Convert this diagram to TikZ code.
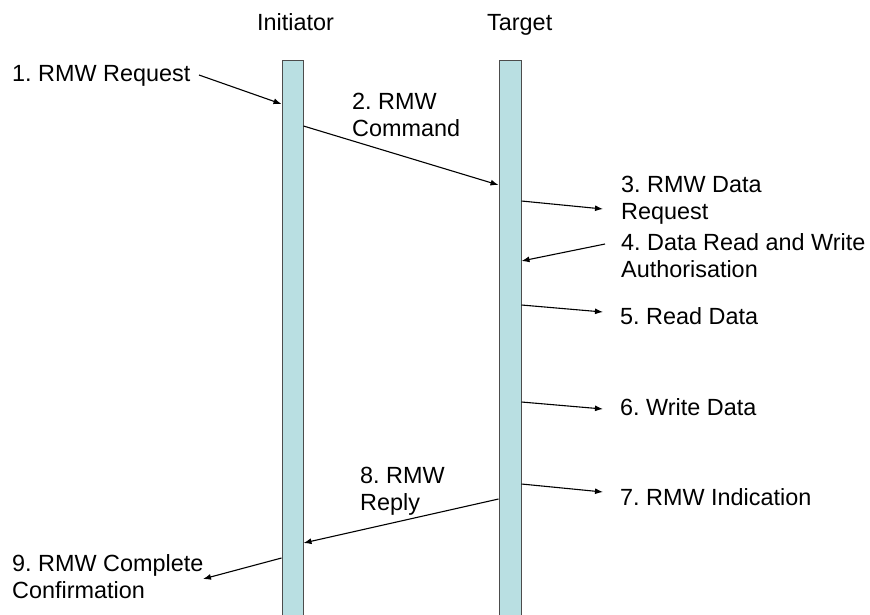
\documentclass[tikz,border=0pt]{standalone}
\usepackage{fontspec}
\setmainfont{Liberation Sans}
\usetikzlibrary{arrows.meta}
\definecolor{barblue}{RGB}{185,223,226}
\frenchspacing
\tikzset{
  lifeline/.style={draw=black!70, fill=barblue, line width=1pt, inner sep=0pt, anchor=north},
  msg/.style={line width=1.1pt, -{Latex[length=8pt,width=6pt]}},
  lbl/.style={font=\fontsize{23.4}{27}\selectfont, inner sep=0pt, align=left, anchor=base west}
}
\begin{document}
\begin{tikzpicture}[x=1pt,y=-1pt]
\useasboundingbox (0,0) rectangle (870,614);
\node[lifeline, minimum width=21pt, minimum height=562pt] (init) at (292.5,60) {};
\node[lifeline, minimum width=22pt, minimum height=562pt] (targ) at (510,60) {};
\node[lbl] (hinit) at (257,30) {Initiator};
\node[lbl] (htarg) at (487,30) {Target};

\node[lbl] (l1) at (12,81) {1. RMW Request};
\node[lbl] (l2) at (352,136.5) {2. RMW\\Command};
\node[lbl] (l3) at (621,219) {3. RMW Data\\Request};
\node[lbl] (l4) at (621,277) {4. Data Read and Write\\Authorisation};
\node[lbl] (l5) at (620,324) {5. Read Data};
\node[lbl] (l6) at (620,415) {6. Write Data};
\node[lbl] (l7) at (620,505) {7. RMW Indication};
\node[lbl] (l8) at (360,510) {8. RMW\\Reply};
\node[lbl] (l9) at (12,598) {9. RMW Complete\\Confirmation};

\coordinate (e1) at (199,75);
\coordinate (e3) at (603,209);
\coordinate (e4) at (605,244);
\coordinate (e5) at (603,312);
\coordinate (e6) at (603,409);
\coordinate (e7) at (603,492);
\coordinate (e9) at (203,579);

\draw[msg] (e1) -- (init.west |- 0,104);
\draw[msg] (init.east |- 0,126) -- (targ.west |- 0,185);
\draw[msg] (targ.east |- 0,201) -- (e3);
\draw[msg] (e4) -- (targ.east |- 0,261);
\draw[msg] (targ.east |- 0,305) -- (e5);
\draw[msg] (targ.east |- 0,402) -- (e6);
\draw[msg] (targ.east |- 0,484) -- (e7);
\draw[msg] (targ.west |- 0,499) -- (init.east |- 0,543);
\draw[msg] (init.west |- 0,558) -- (e9);
\end{tikzpicture}
\end{document}
